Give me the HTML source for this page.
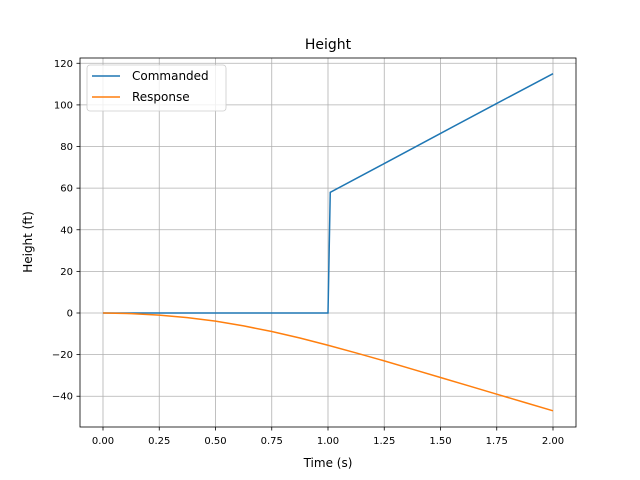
<!DOCTYPE html>
<html><head><meta charset="utf-8"><style>body{margin:0;background:#fff}svg{display:block;font-family:"DejaVu Sans","Liberation Sans",sans-serif}</style></head>
<body>
<svg id="chart" width="640" height="480"></svg>
<script>
const xTicks=[0,0.25,0.5,0.75,1.0,1.25,1.5,1.75,2.0];
const xTickLabels=["0.00","0.25","0.50","0.75","1.00","1.25","1.50","1.75","2.00"];
const yTicks=[-40,-20,0,20,40,60,80,100,120];
const yTickLabels=["−40","−20","0","20","40","60","80","100","120"];
const cmdT=[0,0.25,0.5,0.75,1.0,1.01,1.25,1.5,1.75,2.0];
const cmdV=[0,0,0,0,0,58,71.8,86.3,100.7,115];
const respT=[0,0.125,0.25,0.375,0.5,0.625,0.75,0.875,1.0,1.125,1.25,1.375,1.5,1.625,1.75,1.875,2.0];
const respV=[0,-0.3,-1,-2.2,-3.9,-6.2,-8.9,-12,-15.5,-19.2,-23,-27,-31,-35,-39,-43,-47];
const NS="http://www.w3.org/2000/svg";
const svg=document.getElementById('chart');
const L=80,R=576,T=58,B=427;
const xs=v=>103+v*225;
const ys=v=>313-v*2.081;
function mk(tag,attrs,parent){const e=document.createElementNS(NS,tag);for(const k in attrs)e.setAttribute(k,attrs[k]);(parent||svg).appendChild(e);return e;}
xTicks.forEach((t,i)=>{
 const g=mk('line',{x1:xs(t),x2:xs(t),y1:T,y2:B,stroke:'#b0b0b0','stroke-width':0.8});
 
 
 mk('line',{x1:xs(t),x2:xs(t),y1:B,y2:B+3.5,stroke:'#000','stroke-width':0.8});
 const tx=mk('text',{x:xs(t),y:B+17,'text-anchor':'middle','font-size':10});tx.textContent=xTickLabels[i];
 
 
});
yTicks.forEach((t,i)=>{
 const g=mk('line',{x1:L,x2:R,y1:ys(t),y2:ys(t),stroke:'#b0b0b0','stroke-width':0.8});
 
 
 mk('line',{x1:L-3.5,x2:L,y1:ys(t),y2:ys(t),stroke:'#000','stroke-width':0.8});
 const tx=mk('text',{x:L-7,y:ys(t)+3.5,'text-anchor':'end','font-size':10});tx.textContent=yTickLabels[i];
 
 
});
function line(ts,vs,color,name){
 const p=mk('polyline',{points:ts.map((t,i)=>xs(t)+','+ys(vs[i])).join(' '),fill:'none',stroke:color,'stroke-width':1.5});
 
 
}
line(cmdT,cmdV,'#1f77b4','commanded-line');
line(respT,respV,'#ff7f0e','response-line');
</script>
<script>
const s=document.getElementById('chart');
s.insertAdjacentHTML('beforeend',`
<rect x="80" y="58" width="496" height="369" fill="none" stroke="#000" stroke-width="0.8"/>
<text x="328" y="49" text-anchor="middle" font-size="14">Height</text>
<text x="328" y="467" text-anchor="middle" font-size="12">Time (s)</text>
<text x="32" y="242" text-anchor="middle" font-size="12" transform="rotate(-90 32 242)">Height (ft)</text>
<g>
<rect x="87" y="65" width="139" height="46" rx="3" fill="#fff" fill-opacity="0.8" stroke="#ccc" stroke-width="0.8"/>
<line x1="92" x2="120" y1="76" y2="76" stroke="#1f77b4" stroke-width="1.5"/>
<text x="132" y="80" font-size="12">Commanded</text>
<line x1="92" x2="120" y1="97" y2="97" stroke="#ff7f0e" stroke-width="1.5"/>
<text x="132" y="101" font-size="12">Response</text>
</g>`);
</script>
</body></html>
